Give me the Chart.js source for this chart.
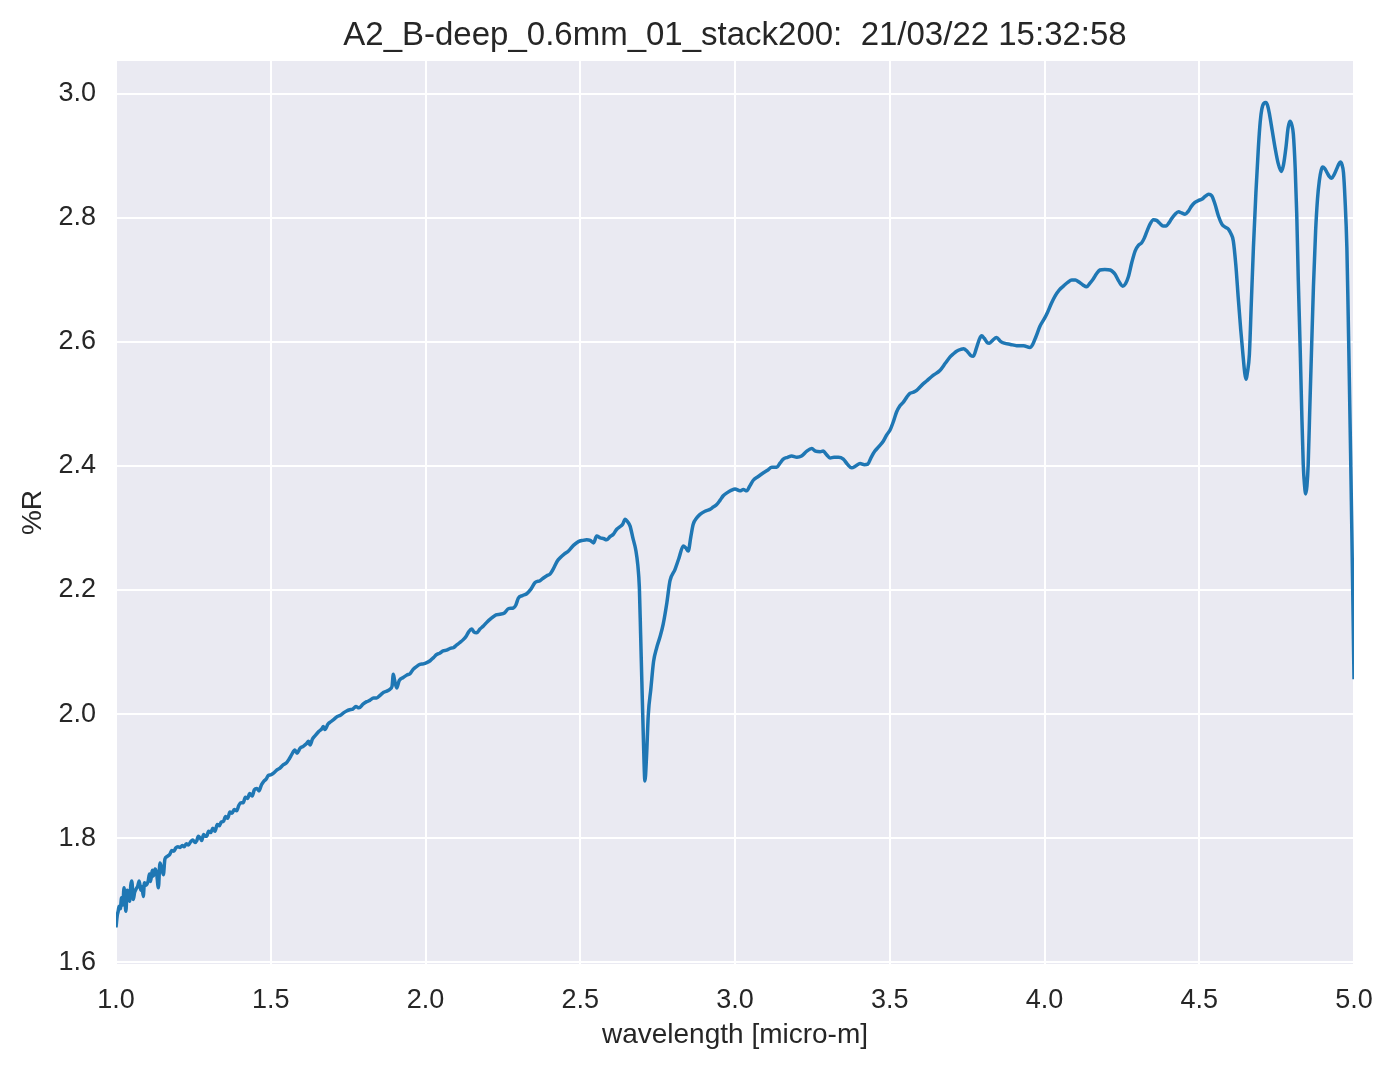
<!DOCTYPE html>
<html>
<head>
<meta charset="utf-8">
<script src="https://cdn.jsdelivr.net/npm/chart.js@4"></script>
<style>
  html, body { margin: 0; padding: 0; background: #fff; }
  #wrap { width: 1394px; height: 1069px; }
</style>
</head>
<body>
<div id="wrap"><canvas id="spec"></canvas></div>
<script>
// ---------- DATA ----------
const chartTitle = 'A2_B-deep_0.6mm_01_stack200:  21/03/22 15:32:58';
const xLabel = 'wavelength [micro-m]';
const yLabel = '%R';
const xTicks = [1.0, 1.5, 2.0, 2.5, 3.0, 3.5, 4.0, 4.5, 5.0];
const yTicks = [1.6, 1.8, 2.0, 2.2, 2.4, 2.6, 2.8, 3.0];

const wavelength = [
  1.000, 1.004, 1.007, 1.010, 1.014, 1.018, 1.022, 1.026, 1.029, 1.032,
  1.036, 1.040, 1.044, 1.048, 1.051, 1.056, 1.060, 1.065, 1.070, 1.075,
  1.080, 1.084, 1.088, 1.092, 1.097, 1.104, 1.108, 1.112, 1.117, 1.121,
  1.126, 1.131, 1.137, 1.142, 1.147, 1.153, 1.158, 1.164, 1.170, 1.174,
  1.180, 1.187, 1.193, 1.200, 1.207, 1.214, 1.220, 1.227, 1.234, 1.241,
  1.248, 1.255, 1.261, 1.266, 1.271, 1.277, 1.283, 1.288, 1.293, 1.299,
  1.306, 1.313, 1.320, 1.327, 1.334, 1.340, 1.347, 1.354, 1.361, 1.368,
  1.375, 1.382, 1.390, 1.397, 1.404, 1.411, 1.418, 1.425, 1.432, 1.440,
  1.447, 1.455, 1.462, 1.470, 1.478, 1.485, 1.492, 1.500, 1.510, 1.520,
  1.530, 1.540, 1.550, 1.560, 1.568, 1.578, 1.585, 1.595, 1.605, 1.615,
  1.622, 1.627, 1.635, 1.645, 1.655, 1.665, 1.670, 1.675, 1.685, 1.695,
  1.705, 1.715, 1.725, 1.735, 1.745, 1.755, 1.765, 1.775, 1.785, 1.798,
  1.810, 1.820, 1.832, 1.842, 1.855, 1.865, 1.875, 1.885, 1.892, 1.896,
  1.900, 1.907, 1.915, 1.928, 1.940, 1.950, 1.960, 1.972, 1.982, 1.993,
  2.004, 2.015, 2.026, 2.036, 2.046, 2.057, 2.068, 2.080, 2.090, 2.100,
  2.110, 2.122, 2.132, 2.140, 2.149, 2.157, 2.165, 2.176, 2.187, 2.200,
  2.214, 2.228, 2.241, 2.255, 2.268, 2.284, 2.292, 2.300, 2.313, 2.327,
  2.340, 2.354, 2.370, 2.380, 2.392, 2.403, 2.413, 2.425, 2.435, 2.448,
  2.462, 2.478, 2.494, 2.508, 2.521, 2.532, 2.543, 2.553, 2.565, 2.575,
  2.585, 2.596, 2.607, 2.618, 2.628, 2.637, 2.645, 2.653, 2.661, 2.670,
  2.680, 2.686, 2.691, 2.695, 2.699, 2.704, 2.709, 2.714, 2.720, 2.728,
  2.737, 2.747, 2.758, 2.768, 2.780, 2.790, 2.806, 2.818, 2.833, 2.841,
  2.849, 2.857, 2.865, 2.876, 2.887, 2.903, 2.919, 2.930, 2.941, 2.952,
  2.962, 2.975, 2.989, 3.000, 3.016, 3.027, 3.038, 3.048, 3.059, 3.075,
  3.092, 3.105, 3.119, 3.135, 3.146, 3.156, 3.170, 3.183, 3.200, 3.215,
  3.232, 3.248, 3.260, 3.275, 3.285, 3.296, 3.307, 3.320, 3.334, 3.350,
  3.363, 3.377, 3.390, 3.404, 3.418, 3.429, 3.440, 3.452, 3.466, 3.479,
  3.490, 3.501, 3.512, 3.522, 3.533, 3.544, 3.555, 3.565, 3.577, 3.587,
  3.603, 3.619, 3.640, 3.662, 3.680, 3.695, 3.706, 3.716, 3.730, 3.738,
  3.750, 3.762, 3.770, 3.780, 3.790, 3.797, 3.805, 3.815, 3.822, 3.833,
  3.845, 3.858, 3.870, 3.890, 3.910, 3.932, 3.953, 3.962, 3.972, 3.986,
  4.000, 4.010, 4.022, 4.034, 4.048, 4.061, 4.075, 4.088, 4.100, 4.110,
  4.124, 4.136, 4.147, 4.158, 4.168, 4.179, 4.195, 4.212, 4.221, 4.228,
  4.240, 4.253, 4.262, 4.271, 4.282, 4.293, 4.304, 4.314, 4.322, 4.330,
  4.341, 4.352, 4.362, 4.373, 4.383, 4.393, 4.402, 4.411, 4.422, 4.433,
  4.443, 4.454, 4.465, 4.475, 4.486, 4.497, 4.508, 4.520, 4.530, 4.540,
  4.551, 4.562, 4.573, 4.584, 4.594, 4.602, 4.610, 4.618, 4.626, 4.634,
  4.642, 4.647, 4.651, 4.656, 4.662, 4.668, 4.675, 4.683, 4.691, 4.697,
  4.702, 4.709, 4.715, 4.721, 4.727, 4.736, 4.745, 4.755, 4.765, 4.772,
  4.780, 4.787, 4.793, 4.799, 4.804, 4.810, 4.815, 4.820, 4.826, 4.831,
  4.836, 4.840, 4.844, 4.848, 4.852, 4.857, 4.863, 4.869, 4.876, 4.882,
  4.888, 4.894, 4.899, 4.905, 4.912, 4.920, 4.928, 4.936, 4.944, 4.950,
  4.956, 4.961, 4.966, 4.971, 4.977, 4.981, 4.985, 4.989, 4.993, 4.997,
  5.000
];

const reflectance = [
  1.656, 1.675, 1.682, 1.690, 1.686, 1.704, 1.692, 1.720, 1.700, 1.682,
  1.716, 1.712, 1.698, 1.725, 1.731, 1.701, 1.712, 1.718, 1.722, 1.731,
  1.716, 1.722, 1.706, 1.728, 1.724, 1.731, 1.742, 1.730, 1.748, 1.739,
  1.750, 1.744, 1.720, 1.760, 1.752, 1.741, 1.766, 1.770, 1.772, 1.774,
  1.780, 1.779, 1.784, 1.786, 1.785, 1.788, 1.786, 1.791, 1.789, 1.794,
  1.797, 1.793, 1.796, 1.803, 1.801, 1.796, 1.806, 1.803, 1.803, 1.811,
  1.809, 1.816, 1.811, 1.822, 1.820, 1.826, 1.827, 1.835, 1.832, 1.842,
  1.840, 1.846, 1.844, 1.853, 1.857, 1.857, 1.866, 1.864, 1.872, 1.868,
  1.878, 1.880, 1.876, 1.886, 1.892, 1.895, 1.901, 1.902, 1.905, 1.910,
  1.913, 1.918, 1.921, 1.928, 1.935, 1.942, 1.937, 1.945, 1.948, 1.952,
  1.956, 1.950, 1.960, 1.966, 1.972, 1.976, 1.980, 1.975, 1.984, 1.988,
  1.992, 1.996, 1.998, 2.002, 2.005, 2.007, 2.008, 2.012, 2.010, 2.016,
  2.020, 2.022, 2.026, 2.026, 2.031, 2.035, 2.037, 2.040, 2.045, 2.064,
  2.055, 2.042, 2.054, 2.059, 2.063, 2.065, 2.072, 2.077, 2.080, 2.081,
  2.083, 2.086, 2.091, 2.096, 2.098, 2.102, 2.103, 2.106, 2.107, 2.111,
  2.115, 2.120, 2.126, 2.133, 2.137, 2.132, 2.131, 2.137, 2.142, 2.149,
  2.155, 2.160, 2.161, 2.163, 2.170, 2.171, 2.176, 2.187, 2.191, 2.194,
  2.201, 2.212, 2.215, 2.219, 2.223, 2.226, 2.234, 2.246, 2.252, 2.258,
  2.263, 2.272, 2.278, 2.280, 2.281, 2.280, 2.276, 2.287, 2.284, 2.283,
  2.281, 2.286, 2.290, 2.298, 2.302, 2.306, 2.314, 2.310, 2.303, 2.284,
  2.263, 2.240, 2.204, 2.130, 2.053, 1.960, 1.892, 1.930, 2.000, 2.040,
  2.085, 2.107, 2.125, 2.145, 2.180, 2.215, 2.233, 2.250, 2.271, 2.268,
  2.263, 2.285, 2.306, 2.316, 2.322, 2.327, 2.330, 2.334, 2.338, 2.345,
  2.352, 2.357, 2.361, 2.363, 2.360, 2.362, 2.360, 2.368, 2.377, 2.383,
  2.389, 2.393, 2.398, 2.398, 2.405, 2.411, 2.414, 2.416, 2.414, 2.416,
  2.424, 2.428, 2.424, 2.423, 2.424, 2.418, 2.413, 2.414, 2.414, 2.411,
  2.403, 2.397, 2.400, 2.404, 2.402, 2.403, 2.414, 2.424, 2.432, 2.440,
  2.450, 2.458, 2.472, 2.487, 2.497, 2.503, 2.511, 2.517, 2.519, 2.522,
  2.530, 2.537, 2.546, 2.554, 2.566, 2.576, 2.581, 2.585, 2.588, 2.589,
  2.585, 2.578, 2.577, 2.590, 2.605, 2.610, 2.606, 2.599, 2.598, 2.603,
  2.607, 2.601, 2.598, 2.596, 2.594, 2.594, 2.591, 2.596, 2.608, 2.626,
  2.638, 2.648, 2.662, 2.674, 2.684, 2.690, 2.696, 2.700, 2.700, 2.697,
  2.692, 2.689, 2.695, 2.702, 2.710, 2.716, 2.717, 2.716, 2.713, 2.709,
  2.698, 2.690, 2.694, 2.705, 2.728, 2.747, 2.756, 2.760, 2.767, 2.777,
  2.790, 2.797, 2.796, 2.791, 2.787, 2.787, 2.792, 2.799, 2.806, 2.810,
  2.808, 2.806, 2.811, 2.819, 2.825, 2.828, 2.830, 2.835, 2.838, 2.836,
  2.822, 2.803, 2.790, 2.785, 2.782, 2.775, 2.763, 2.725, 2.671, 2.620,
  2.575, 2.550, 2.540, 2.552, 2.580, 2.660, 2.752, 2.840, 2.913, 2.955,
  2.975, 2.985, 2.986, 2.981, 2.967, 2.940, 2.913, 2.888, 2.875, 2.885,
  2.913, 2.945, 2.956, 2.950, 2.935, 2.880, 2.806, 2.700, 2.591, 2.490,
  2.403, 2.370, 2.355, 2.368, 2.403, 2.490, 2.591, 2.690, 2.779, 2.830,
  2.860, 2.877, 2.882, 2.880, 2.874, 2.867, 2.864, 2.870, 2.879, 2.886,
  2.890, 2.886, 2.873, 2.830, 2.752, 2.650, 2.537, 2.420, 2.295, 2.160,
  2.056
];

// ---------- Helpers ----------
const textColor = '#262626';
const fontFamily = '"Liberation Sans", Arial, Helvetica, sans-serif';

// fundo cinza da área do gráfico (estilo seaborn darkgrid)
const plotBackground = {
  id: 'plotBackground',
  beforeDraw(chart) {
    const { ctx, chartArea: a } = chart;
    ctx.save();
    ctx.fillStyle = '#eaeaf2';
    ctx.fillRect(a.left, a.top, a.right - a.left, a.bottom - a.top);
    ctx.restore();
  }
};

// título centrado sobre a área do gráfico (como no matplotlib)
const axesTitle = {
  id: 'axesTitle',
  afterDraw(chart) {
    const { ctx, chartArea: a } = chart;
    ctx.save();
    ctx.fillStyle = textColor;
    ctx.font = '33px ' + fontFamily;
    ctx.textAlign = 'center';
    ctx.textBaseline = 'alphabetic';
    ctx.fillText(chartTitle, (a.left + a.right) / 2, 45);
    ctx.restore();
  }
};

const points = wavelength.map((x, i) => ({ x, y: reflectance[i] }));

new Chart(document.getElementById('spec'), {
  type: 'line',
  data: {
    datasets: [{
      data: points,
      borderColor: '#1f77b4',
      borderWidth: 3.5,
      pointRadius: 0,
      fill: false,
      cubicInterpolationMode: 'monotone'
    }]
  },
  options: {
    responsive: true,
    maintainAspectRatio: false,
    animation: false,
    layout: { padding: { left: 0, right: 40, top: 61, bottom: 0 } },
    plugins: {
      legend: { display: false },
      tooltip: { enabled: false },
      title: { display: false }
    },
    scales: {
      x: {
        type: 'linear',
        min: 1.0,
        max: 5.0,
        afterBuildTicks: s => { s.ticks = xTicks.map(v => ({ value: v })); },
        afterFit: s => { s.height = 105; },
        border: { display: false },
        grid: { color: '#ffffff', lineWidth: 2, drawTicks: false },
        ticks: {
          color: textColor,
          padding: 20,
          maxRotation: 0,
          font: { family: fontFamily, size: 27 },
          callback: v => Number(v).toFixed(1)
        },
        title: {
          display: true,
          text: xLabel,
          color: textColor,
          font: { family: fontFamily, size: 28 },
          padding: { top: 0, bottom: 17 }
        }
      },
      y: {
        type: 'linear',
        min: 1.597,
        max: 3.053,
        afterBuildTicks: s => { s.ticks = yTicks.map(v => ({ value: v })); },
        afterFit: s => { s.width = 116; },
        border: { display: false },
        grid: { color: '#ffffff', lineWidth: 2, drawTicks: false },
        ticks: {
          color: textColor,
          padding: 20,
          font: { family: fontFamily, size: 27 },
          callback: v => Number(v).toFixed(1)
        },
        title: {
          display: true,
          text: yLabel,
          color: textColor,
          font: { family: fontFamily, size: 28 },
          padding: { top: 16, bottom: 0 }
        }
      }
    }
  },
  plugins: [plotBackground, axesTitle]
});
</script>
</body>
</html>
